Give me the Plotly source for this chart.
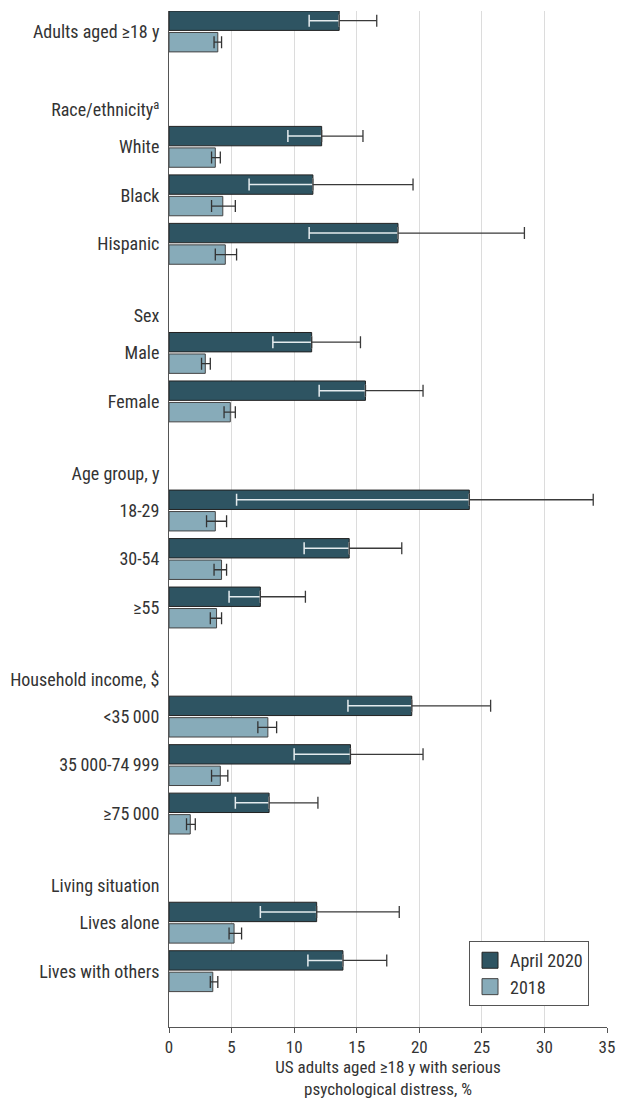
import plotly.graph_objects as go

# ---- data ----
group_headers = [None, "Race/ethnicity<sup>a</sup>", "Sex", "Age group, y",
                 "Household income, $", "Living situation"]
group_items = [
    ["Adults aged ≥18 y"],
    ["White", "Black", "Hispanic"],
    ["Male", "Female"],
    ["18-29", "30-54", "≥55"],
    ["<35\u2009000", "35\u2009000-74\u2009999", "≥75\u2009000"],
    ["Lives alone", "Lives with others"],
]
val_2020 = [13.6, 12.2, 11.5, 18.3, 11.4, 15.7, 24.0, 14.4, 7.3, 19.4, 14.5, 8.0, 11.8, 13.9]
lo_2020 = [11.2, 9.5, 6.4, 11.2, 8.3, 12.0, 5.4, 10.8, 4.8, 14.3, 10.0, 5.3, 7.3, 11.1]
hi_2020 = [16.6, 15.5, 19.5, 28.4, 15.3, 20.3, 33.9, 18.6, 10.9, 25.7, 20.3, 11.9, 18.4, 17.4]
val_2018 = [3.9, 3.7, 4.3, 4.5, 2.9, 4.9, 3.7, 4.2, 3.8, 7.9, 4.1, 1.7, 5.2, 3.5]
lo_2018 = [3.6, 3.4, 3.4, 3.7, 2.6, 4.4, 3.0, 3.6, 3.3, 7.1, 3.4, 1.4, 4.8, 3.3]
hi_2018 = [4.2, 4.1, 5.3, 5.4, 3.3, 5.3, 4.6, 4.6, 4.2, 8.6, 4.7, 2.1, 5.8, 3.9]
x_ticks = [0, 5, 10, 15, 20, 25, 30, 35]
series_names = ["April 2020", "2018"]

# ---- layout of rows (positions in row units) ----
group_gaps = [0, 2.38, 2.25, 2.25, 2.25, 2.25]
HEADER_OFFSET = 0.76
pos = []
tickvals, ticktext = [], []
cur = None
for header, items, gap in zip(group_headers, group_items, group_gaps):
    cur = 0.0 if cur is None else cur + gap
    if header:
        tickvals.append(cur - HEADER_OFFSET)
        ticktext.append(header)
    for i, it in enumerate(items):
        if i > 0:
            cur += 1
        pos.append(cur)
        tickvals.append(cur)
        ticktext.append(it)

C2020 = "#2E5462"
C2018 = "#87ABB9"
L2020 = "#222222"
L2018 = "#444444"
W = 0.40
OFF2020 = -0.423
OFF2018 = 0.02

fig = go.Figure()
fig.add_trace(go.Bar(
    y=pos, x=val_2020, orientation="h", name=series_names[0], showlegend=False,
    width=W, offset=OFF2020,
    marker=dict(color=C2020, line=dict(color=L2020, width=1)),
))
fig.add_trace(go.Bar(
    y=pos, x=val_2018, orientation="h", name=series_names[1], showlegend=False,
    width=W, offset=OFF2018,
    marker=dict(color=C2018, line=dict(color=L2018, width=1)),
    error_x=dict(type="data", symmetric=False,
                 array=[h - v for h, v in zip(hi_2018, val_2018)],
                 arrayminus=[v - l for v, l in zip(val_2018, lo_2018)],
                 color="#333", thickness=1.3, width=6),
))
# lower CI part of April 2020 (light line inside bar)
fig.add_trace(go.Bar(
    y=pos, x=val_2020, orientation="h", showlegend=False, hoverinfo="skip",
    width=W, offset=OFF2020,
    marker=dict(color="rgba(0,0,0,0)", line=dict(width=0)),
    error_x=dict(type="data", symmetric=False,
                 array=[0] * len(val_2020),
                 arrayminus=[v - l for v, l in zip(val_2020, lo_2020)],
                 color="#E4EBEE", thickness=1.5, width=6),
))
# upper CI part of April 2020
fig.add_trace(go.Bar(
    y=pos, x=val_2020, orientation="h", showlegend=False, hoverinfo="skip",
    width=W, offset=OFF2020,
    marker=dict(color="rgba(0,0,0,0)", line=dict(width=0)),
    error_x=dict(type="data", symmetric=False,
                 array=[h - v for h, v in zip(hi_2020, val_2020)],
                 arrayminus=[0] * len(val_2020),
                 color="#3A3A3A", thickness=1.3, width=6),
))
# legend entries (larger square swatches)
for nm, fc, lc in zip(series_names, [C2020, C2018], [L2020, L2018]):
    fig.add_trace(go.Scatter(
        x=[None], y=[None], mode="markers", name=nm, legendgroup=nm,
        marker=dict(symbol="square", size=18, color=fc, line=dict(color=lc, width=1)),
    ))

FONT = "Liberation Sans Narrow, Roboto Condensed, Roboto, sans-serif"
fig.update_layout(
    width=622, height=1099,
    margin=dict(l=169, r=15, t=11, b=72),
    paper_bgcolor="white", plot_bgcolor="white",
    barmode="overlay",
    font=dict(family=FONT, size=18, color="#333"),
    showlegend=True,
    legend=dict(x=0.685, y=0.0846, xanchor="left", yanchor="top",
                bordercolor="#555", borderwidth=1, bgcolor="white",
                font=dict(size=18, color="#333"), tracegroupgap=6,
                itemsizing="trace", traceorder="normal"),
    xaxis=dict(range=[0, 35], tickvals=x_ticks, showgrid=True,
               gridcolor="#DCDCDC", gridwidth=1, zeroline=False,
               showline=True, linecolor="#555", linewidth=1,
               ticks="outside", ticklen=5, tickcolor="#555",
               tickfont=dict(size=17), automargin=False,
               title=dict(text="US adults aged ≥18 y with serious<br>psychological distress, %",
                          font=dict(size=17), standoff=10)),
    yaxis=dict(range=[20.53, -0.423], tickvals=tickvals, ticktext=ticktext,
               showgrid=False, zeroline=False, showline=True,
               linecolor="#555", linewidth=1, ticks="", automargin=False,
               ticklabelstandoff=5, tickfont=dict(size=18)),
)

fig.write_html("out.html", config={"displayModeBar": False},
               post_script="document.body.style.margin='0px';")
